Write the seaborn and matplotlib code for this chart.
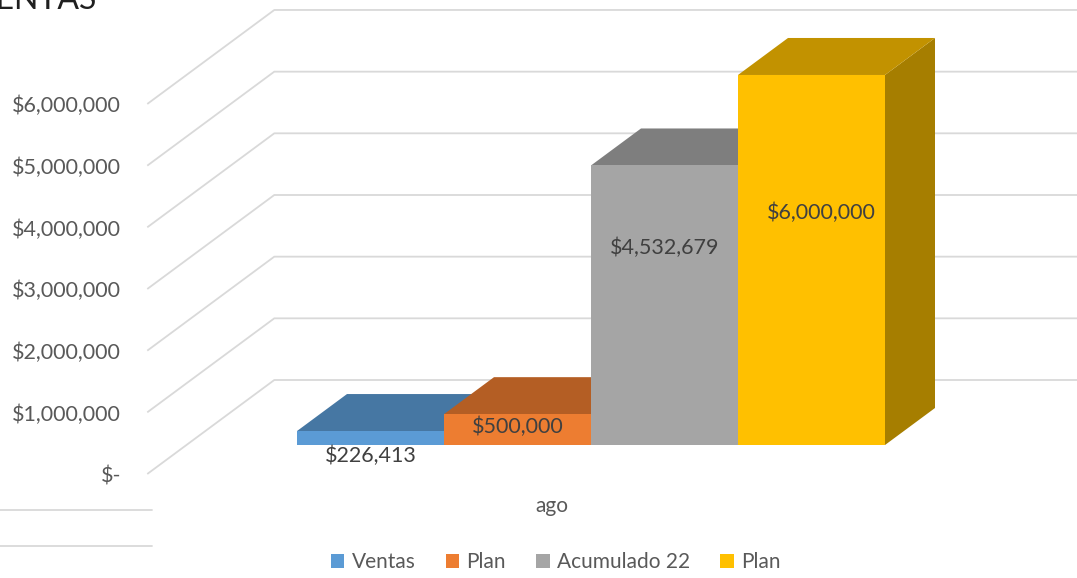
import numpy as np
import pandas as pd
import matplotlib.pyplot as plt
import seaborn as sns
from matplotlib.patches import Polygon, Patch
from matplotlib.lines import Line2D

# --- data ---
series = ["Ventas", "Plan", "Acumulado 22", "Plan"]
values = [226413, 500000, 4532679, 6000000]
month = "ago"
tick_values = [0, 1000000, 2000000, 3000000, 4000000, 5000000, 6000000]

front_colors = ["#5B9BD5", "#ED7D31", "#A5A5A5", "#FFC000"]
top_colors = ["#4677A3", "#B45E24", "#7E7E7E", "#C29200"]
side_colors = ["#3B6389", "#93501F", "#6A6A6A", "#A67E00"]

sns.set_theme(style="white")
plt.rcParams["font.family"] = ["Lato", "DejaVu Sans"]

W, H = 1077, 578
fig = plt.figure(figsize=(W / 100, H / 100), dpi=100)
ax = fig.add_axes([0, 0, 1, 1])

# pixel scale of the fake 3D projection
PX_X = 147.0            # px per category unit (one bar width)
PX_Y = 61.67 / 1e6      # px per dollar
BAR_DX, BAR_DY = 50 / PX_X, 37 / PX_Y   # depth of one bar
WALL_FRONT = -29 / 37                    # in bar depths
WALL_BACK = 65 / 37
GAP = 0.752                              # gap between wall and first / last bar

def proj(x, v, d):
    return x + d * BAR_DX, v + d * BAR_DY

df = pd.DataFrame({"key": [f"s{i}" for i in range(len(series))],
                   "serie": series, "valor": values})

sns.barplot(data=df, x="key", y="valor", hue="key", palette=front_colors,
            width=1.0, saturation=1, legend=False, edgecolor="none", ax=ax)

bars = sorted(ax.patches, key=lambda p: p.get_x())
for i, (bar, v) in enumerate(zip(bars, values)):
    bar.set_zorder(10 + 3 * i + 2)
    x0, x1 = i - 0.5, i + 0.5
    # top face
    top = [proj(x0, v, 0), proj(x1, v, 0), proj(x1, v, 1), proj(x0, v, 1)]
    ax.add_patch(Polygon(top, closed=True, facecolor=top_colors[i],
                         edgecolor="none", zorder=10 + 3 * i + 1))
    # right side face
    side = [proj(x1, 0, 0), proj(x1, v, 0), proj(x1, v, 1), proj(x1, 0, 1)]
    ax.add_patch(Polygon(side, closed=True, facecolor=side_colors[i],
                         edgecolor="none", zorder=10 + 3 * i))

# walls / gridlines
n = len(values)
x_left = -0.5 - GAP
x_right = n - 0.5 + GAP
grid_kw = dict(color="#D9D9D9", lw=1.3, zorder=1, solid_capstyle="butt")
for v in tick_values:
    a = proj(x_left, v, WALL_FRONT)
    b = proj(x_left, v, WALL_BACK)
    c = proj(x_right, v, WALL_BACK)
    ax.plot([a[0], b[0], c[0]], [a[1], b[1], c[1]], **grid_kw)
    lab = "$-" if v == 0 else f"${v:,.0f}"
    ax.annotate(lab, xy=a, xytext=(-26 * 0.72, -1.5), textcoords="offset points",
                ha="right", va="center", fontsize=15.5, color="#595959")

# data labels
label_y = [-180000, 290000, 3190000, 3760000]
label_dx = [0, 0, 0, 0.07]
for i, v in enumerate(values):
    ax.text(i + label_dx[i], label_y[i], f"${v:,.0f}", ha="center", va="center",
            fontsize=15.5, color="#404040", zorder=30)

# category label
cx, cy = proj((n - 1) / 2, 0, WALL_FRONT)
ax.annotate(month, xy=(cx, cy), xytext=(0, -32 * 0.72), textcoords="offset points",
            ha="center", va="center", fontsize=15, color="#595959")

ax.set_xlim(-0.5 - 297 / PX_X, -0.5 + (W - 297) / PX_X)
ax.set_ylim(-(H - 445) / PX_Y, 445 / PX_Y)
ax.axis("off")

# title (cropped in the reference)
fig.text(97 / W, 1 - 9 / H, "VENTAS", ha="right", va="baseline",
         fontsize=23, color="#1F1F1F")

# stray gridlines at the bottom-left of the reference
for yy in (510, 546):
    fig.add_artist(Line2D([0, 152 / W], [1 - yy / H] * 2, color="#D9D9D9", lw=1.3))

handles = [Patch(facecolor=c, edgecolor="none") for c in front_colors]
fig.legend(handles, series, loc="center", bbox_to_anchor=(0.516, 1 - 562 / H),
           ncol=4, frameon=False, fontsize=15, handlelength=0.65, handleheight=0.65,
           handletextpad=0.35, columnspacing=1.45, labelcolor="#595959")

fig.savefig("out.png", dpi=100)
